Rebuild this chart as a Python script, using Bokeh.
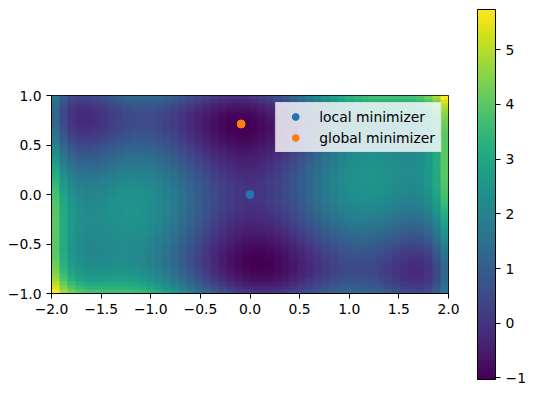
import numpy as np
from bokeh.plotting import figure
from bokeh.models import (LinearColorMapper, FixedTicker, CustomJSTickFormatter,
                          Range1d, Legend, LegendItem, ColorBar)
from bokeh.palettes import Viridis256
from bokeh.embed import file_html
from bokeh.resources import INLINE

# ---- data ----
# grid of the plotted surface (six-hump camelback function sampled on 50x50 points)
x_extent = [-2.0, 2.0]
y_extent = [-1.0, 1.0]
n_samples = 50
x_vals = np.linspace(x_extent[0], x_extent[1], n_samples)
y_vals = np.linspace(y_extent[0], y_extent[1], n_samples)
xg, yg = np.meshgrid(x_vals, y_vals)
surface = ((4 - 2.1 * xg**2 + xg**4 / 3.0) * xg**2 + xg * yg
           + (-4 + 4 * yg**2) * yg**2)

point_labels = ["local minimizer", "global minimizer"]
point_x = [0.0, -0.0898]
point_y = [0.0, 0.7126]
point_colors = ["#1f77b4", "#ff7f0e"]

x_ticks = [-2.0, -1.5, -1.0, -0.5, 0.0, 0.5, 1.0, 1.5, 2.0]
y_ticks = [-1.0, -0.5, 0.0, 0.5, 1.0]
cbar_ticks = [-1, 0, 1, 2, 3, 4, 5]

zmin = float(surface.min())
zmax = float(surface.max())

FONT = "DejaVu Sans"
FS = "13.9px"

fmt1 = CustomJSTickFormatter(code="""
    var s = Math.abs(tick) < 1e-9 ? '0.0' : tick.toFixed(1);
    return s.replace('-', '\u2212');
""")
fmt0 = CustomJSTickFormatter(code="""
    var s = Math.abs(tick) < 1e-9 ? '0' : tick.toFixed(0);
    return s.replace('-', '\u2212');
""")


def style_axis(ax):
    ax.major_label_text_font = FONT
    ax.major_label_text_font_size = FS
    ax.major_label_text_color = "black"
    ax.major_tick_in = 0
    ax.major_tick_out = 5
    ax.minor_tick_out = 0
    ax.minor_tick_in = 0
    ax.major_tick_line_color = "black"
    ax.major_label_standoff = 5
    ax.axis_line_color = "black"


mapper = LinearColorMapper(palette=Viridis256, low=zmin, high=zmax)

p = figure(frame_width=397, frame_height=198,
           x_range=Range1d(*x_extent), y_range=Range1d(*y_extent),
           min_border_left=51, min_border_right=78, min_border_top=95,
           min_border_bottom=100, output_backend="svg", toolbar_location=None)
p.image(image=[surface], x=x_extent[0], y=y_extent[0],
        dw=x_extent[1] - x_extent[0], dh=y_extent[1] - y_extent[0],
        color_mapper=mapper)

items = []
for lab, px, py, c in zip(point_labels, point_x, point_y, point_colors):
    r = p.scatter(x=[px], y=[py], size=8, marker="circle",
                  fill_color=c, line_color=c)
    items.append(LegendItem(label=lab, renderers=[r]))

legend = Legend(items=items, location="top_right", margin=7,
                padding=5, spacing=4, label_height=17, glyph_height=17,
                glyph_width=28, label_standoff=10,
                label_text_font=FONT, label_text_font_size=FS,
                label_text_color="black",
                background_fill_color="white", background_fill_alpha=0.8,
                border_line_color="#cccccc", border_line_width=1)
p.add_layout(legend, "center")

p.grid.visible = False
p.outline_line_color = "black"
p.outline_line_width = 1
p.xaxis.ticker = FixedTicker(ticks=x_ticks)
p.yaxis.ticker = FixedTicker(ticks=y_ticks)
p.xaxis.formatter = fmt1
p.yaxis.formatter = fmt1
style_axis(p.xaxis[0])
style_axis(p.yaxis[0])
p.background_fill_color = "white"
p.border_fill_color = "white"

cbar = ColorBar(color_mapper=mapper, location=(426, -86), orientation="vertical",
                width=18, height=370, margin=0, padding=0,
                ticker=FixedTicker(ticks=cbar_ticks), formatter=fmt0,
                major_tick_in=0, major_tick_out=5, minor_tick_in=0, minor_tick_out=0,
                major_tick_line_color="black", label_standoff=5,
                major_label_text_font=FONT, major_label_text_font_size=FS,
                major_label_text_color="black",
                bar_line_color="black", bar_line_width=1,
                border_line_color=None, background_fill_alpha=0)
p.add_layout(cbar, "center")

open("out.html", "w").write(file_html(p, INLINE))
